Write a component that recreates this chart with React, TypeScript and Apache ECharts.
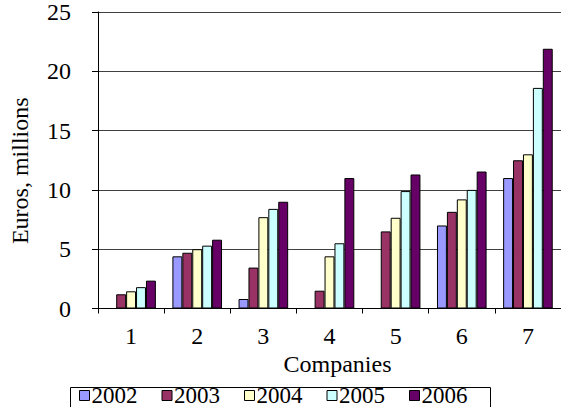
import React, { useEffect, useRef } from "react";
import * as echarts from "echarts";

const categories = ["1", "2", "3", "4", "5", "6", "7"];
const years = ["2002", "2003", "2004", "2005", "2006"];
const v2002 = [0, 4.4, 0.8, 0, 0, 7.0, 11.0];
const v2003 = [1.2, 4.7, 3.45, 1.5, 6.5, 8.15, 12.5];
const v2004 = [1.45, 5.0, 7.7, 4.4, 7.65, 9.2, 13.0];
const v2005 = [1.8, 5.3, 8.4, 5.5, 9.9, 10.0, 18.6];
const v2006 = [2.35, 5.8, 9.0, 11.0, 11.3, 11.55, 21.9];
const seriesValues = [v2002, v2003, v2004, v2005, v2006];
const colors = ["#9999FF", "#993366", "#FFFFCC", "#CCFFFF", "#660066"];

const FONT = "'Liberation Serif', 'Times New Roman', serif";
const FS = 24;

export default function App() {
  const ref = useRef<HTMLDivElement>(null);
  useEffect(() => {
    if (!ref.current) return;
    const chart = echarts.init(ref.current, null, { renderer: "svg" });
    chart.setOption({
      animation: false,
      backgroundColor: "#fff",
      textStyle: { fontFamily: FONT, color: "#000" },
      grid: { left: 95, right: -2, top: 10.5, bottom: 98.5, containLabel: false },
      legend: {
        data: years,
        left: 79,
        top: 384,
        padding: 0,
        itemGap: 24,
        itemWidth: 10,
        itemHeight: 10,
        icon: "rect",
        textStyle: {
          fontFamily: FONT,
          fontSize: 23,
          lineHeight: 21,
          color: "#000",
          padding: [0, 0, 0, -3],
        },
        itemStyle: { borderColor: "#000", borderWidth: 1 },
      },
      graphic: [
        {
          type: "rect",
          shape: { x: 70.5, y: 387.5, width: 420, height: 30 },
          style: { fill: "none", stroke: "#000", lineWidth: 1 },
          silent: true,
        },
      ],
      xAxis: {
        type: "category",
        data: categories,
        name: "Companies",
        nameLocation: "middle",
        nameGap: 38,
        nameTextStyle: { fontFamily: FONT, fontSize: FS, color: "#000", padding: [0, 0, 0, 16] },
        axisLine: { lineStyle: { color: "#000", width: 1 } },
        axisTick: { show: true, length: 5, lineStyle: { color: "#000" } },
        axisLabel: { fontFamily: FONT, fontSize: FS, color: "#000", margin: 15 },
        splitLine: { show: false },
      },
      yAxis: {
        type: "value",
        min: 0,
        max: 25,
        interval: 5,
        name: "Euros, millions",
        nameLocation: "middle",
        nameGap: 66,
        nameTextStyle: { fontFamily: FONT, fontSize: FS, color: "#000", padding: [0, 21, 0, 0] },
        axisLine: { show: true, lineStyle: { color: "#000", width: 1 } },
        axisTick: { show: true, length: 6, lineStyle: { color: "#000" } },
        axisLabel: { fontFamily: FONT, fontSize: FS, color: "#000", margin: 27 },
        splitLine: { show: true, lineStyle: { color: "#404040", width: 1 } },
      },
      series: years.map((y, i) => ({
        name: y,
        type: "bar",
        data: seriesValues[i],
        barGap: "0%",
        barCategoryGap: "25%",
        itemStyle: { color: colors[i], borderColor: "#000", borderWidth: 1 },
      })),
    });
    return () => chart.dispose();
  }, []);
  return (
    <div
      ref={ref}
      style={{ position: "fixed", left: 0, top: 0, width: 561, height: 407 }}
    />
  );
}
